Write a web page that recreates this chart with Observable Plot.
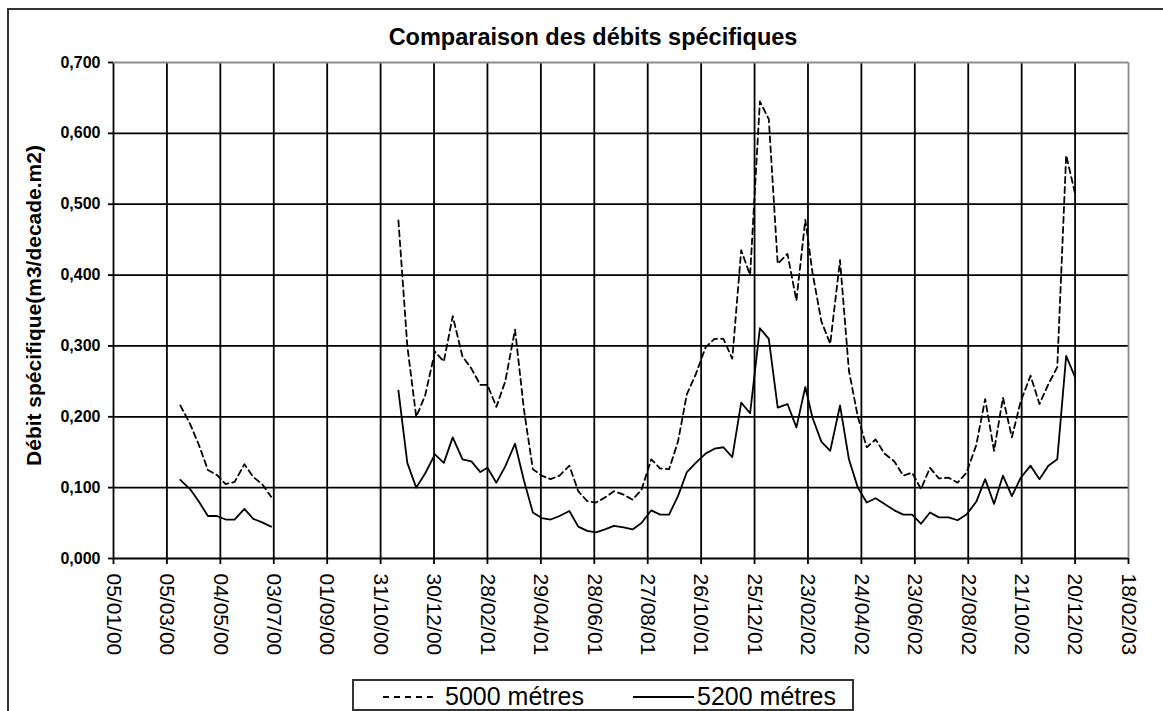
<!DOCTYPE html>
<html>
<head>
<meta charset="utf-8">
<script src="https://cdn.jsdelivr.net/npm/d3@7"></script>
<script src="https://cdn.jsdelivr.net/npm/@observablehq/plot@0.6"></script>
<style>
  html, body { margin: 0; padding: 0; background: #fff; overflow: hidden; }
  #wrap { position: relative; width: 1163px; height: 711px; overflow: hidden; background: #fff;
          font-family: "Liberation Sans", Arial, sans-serif; }
  #border { position: absolute; left: 7px; top: 8px; width: 1300px; height: 900px; border: 2px solid #333; }
  #chart { position: absolute; left: 0; top: 0; }
  #overlay { position: absolute; left: 0; top: 0; }
  #chart svg g[aria-label="y-axis tick label"] text { font-weight: bold; }
</style>
</head>
<body>
<div id="wrap">
  <div id="border"></div>
  <div id="chart"></div>
  <svg id="overlay" width="1163" height="711" font-family="Liberation Sans, Arial, sans-serif">
    <text x="593" y="45" text-anchor="middle" font-weight="bold" font-size="23.5" fill="#000">Comparaison des débits spécifiques</text>
    <text transform="translate(41,305.5) rotate(-90)" text-anchor="middle" font-weight="bold" font-size="21" fill="#000">Débit spécifique(m3/decade.m2)</text>
    <rect x="353" y="680" width="500" height="30" fill="#fff" stroke="#333" stroke-width="2"></rect>
    <line x1="383" y1="697" x2="436" y2="697" stroke="#000" stroke-width="1.8" stroke-dasharray="6,5"></line>
    <text x="445" y="705" font-size="25" fill="#000">5000 métres</text>
    <line x1="633" y1="697" x2="694" y2="697" stroke="#000" stroke-width="1.8"></line>
    <text x="697" y="705" font-size="25" fill="#000">5200 métres</text>
  </svg>
</div>
<script>
// ---- Data ----
const seriesNames = ["5000 métres", "5200 métres"];

// Segment 1: spring 2000 (decade end dates)
const dates1 = ["2000-03-20","2000-03-31","2000-04-10","2000-04-20","2000-04-30","2000-05-10",
                "2000-05-20","2000-05-31","2000-06-10","2000-06-20","2000-06-30"];
const debit5000_1 = [0.216,0.190,0.160,0.125,0.118,0.105,0.108,0.133,0.115,0.105,0.087];
const debit5200_1 = [0.111,0.098,0.080,0.060,0.060,0.055,0.055,0.070,0.056,0.051,0.045];

// Segment 2: Nov 2000 – Dec 2002 (decade end dates)
const dates2 = [
  "2000-11-20","2000-11-30","2000-12-10","2000-12-20","2000-12-31",
  "2001-01-10","2001-01-20","2001-01-31","2001-02-10","2001-02-20","2001-02-28",
  "2001-03-10","2001-03-20","2001-03-31","2001-04-10","2001-04-20","2001-04-30",
  "2001-05-10","2001-05-20","2001-05-31","2001-06-10","2001-06-20","2001-06-30",
  "2001-07-10","2001-07-20","2001-07-31","2001-08-10","2001-08-20","2001-08-31",
  "2001-09-10","2001-09-20","2001-09-30","2001-10-10","2001-10-20","2001-10-31",
  "2001-11-10","2001-11-20","2001-11-30","2001-12-10","2001-12-20","2001-12-31",
  "2002-01-10","2002-01-20","2002-01-31","2002-02-10","2002-02-20","2002-02-28",
  "2002-03-10","2002-03-20","2002-03-31","2002-04-10","2002-04-20","2002-04-30",
  "2002-05-10","2002-05-20","2002-05-31","2002-06-10","2002-06-20","2002-06-30",
  "2002-07-10","2002-07-20","2002-07-31","2002-08-10","2002-08-20","2002-08-31",
  "2002-09-10","2002-09-20","2002-09-30","2002-10-10","2002-10-20","2002-10-31",
  "2002-11-10","2002-11-20","2002-11-30","2002-12-10","2002-12-20"
];
const debit5000_2 = [
  0.477,0.300,0.200,0.230,0.292,
  0.278,0.342,0.285,0.268,0.245,0.245,
  0.214,0.250,0.323,0.210,0.126,0.117,
  0.112,0.117,0.131,0.095,0.081,0.079,
  0.086,0.095,0.090,0.083,0.097,0.140,
  0.127,0.126,0.165,0.232,0.260,0.298,
  0.310,0.310,0.282,0.435,0.400,0.645,
  0.620,0.416,0.430,0.364,0.478,0.404,
  0.335,0.303,0.421,0.265,0.200,0.157,
  0.168,0.148,0.137,0.117,0.121,0.098,
  0.128,0.113,0.114,0.107,0.121,0.160,
  0.225,0.152,0.227,0.171,0.222,0.258,
  0.218,0.246,0.270,0.569,0.515
];
const debit5200_2 = [
  0.237,0.135,0.100,0.120,0.147,
  0.135,0.171,0.140,0.137,0.122,0.128,
  0.107,0.130,0.162,0.110,0.065,0.057,
  0.055,0.060,0.067,0.045,0.039,0.037,
  0.041,0.046,0.044,0.041,0.050,0.068,
  0.062,0.062,0.088,0.122,0.135,0.148,
  0.155,0.157,0.143,0.220,0.205,0.325,
  0.310,0.213,0.218,0.185,0.242,0.199,
  0.165,0.152,0.216,0.140,0.100,0.079,
  0.085,0.077,0.068,0.062,0.062,0.049,
  0.065,0.058,0.058,0.054,0.062,0.080,
  0.112,0.077,0.117,0.088,0.114,0.131,
  0.112,0.131,0.140,0.286,0.256
];

// Axis ticks
const tickLabels = ["05/01/00","05/03/00","04/05/00","03/07/00","01/09/00","31/10/00","30/12/00",
  "28/02/01","29/04/01","28/06/01","27/08/01","26/10/01","25/12/01","23/02/02","24/04/02",
  "23/06/02","22/08/02","21/10/02","20/12/02","18/02/03"];
const yTicks = [0, 0.1, 0.2, 0.3, 0.4, 0.5, 0.6, 0.7];

// ---- Build tables ----
const parseLabel = d3.utcParse("%d/%m/%y");
const tickDates = tickLabels.map(parseLabel);
const toDate = s => new Date(s + "T00:00:00Z");

function rows(dates, values, seg) {
  return dates.map((d, i) => ({date: toDate(d), value: values[i], seg}));
}
const rows5000 = [...rows(dates1, debit5000_1, "a"), ...rows(dates2, debit5000_2, "b")];
const rows5200 = [...rows(dates1, debit5200_1, "a"), ...rows(dates2, debit5200_2, "b")];

const gridColor = "#000";
const frameColor = "#8c8c8c";

const chart = Plot.plot({
  width: 1163,
  height: 711,
  marginLeft: 113,
  marginRight: 35,
  marginTop: 62,
  marginBottom: 153,
  style: {background: "transparent", fontFamily: "Liberation Sans, Arial, sans-serif", color: "#000"},
  x: {type: "utc", domain: [tickDates[0], tickDates[tickDates.length - 1]]},
  y: {domain: [0, 0.7]},
  marks: [
    Plot.ruleX(tickDates.slice(0, -1), {stroke: gridColor, strokeWidth: 1.8}),
    Plot.ruleY(yTicks.slice(0, -1), {stroke: gridColor, strokeWidth: 1.8}),
    Plot.ruleY([0.7], {stroke: frameColor, strokeWidth: 1.8}),
    Plot.ruleX([tickDates[tickDates.length - 1]], {stroke: frameColor, strokeWidth: 1.8}),
    Plot.line(rows5000, {x: "date", y: "value", z: "seg", stroke: "#000", strokeWidth: 1.8, strokeDasharray: "6,4"}),
    Plot.line(rows5200, {x: "date", y: "value", z: "seg", stroke: "#000", strokeWidth: 1.8}),
    Plot.axisY({
      ticks: yTicks,
      tickFormat: d => d3.format(".3f")(d).replace(".", ","),
      tickSize: 5, tickPadding: 8, fontSize: 16, fontWeight: "bold",
      stroke: "#000", strokeWidth: 1.8, label: null
    }),
    Plot.axisX({
      ticks: tickDates,
      tickFormat: d3.utcFormat("%d/%m/%y"),
      tickRotate: 90, tickSize: 6, tickPadding: 9, fontSize: 21,
      stroke: "#000", strokeWidth: 1.8, label: null
    })
  ]
});
document.getElementById("chart").appendChild(chart);
</script>
</body>
</html>
